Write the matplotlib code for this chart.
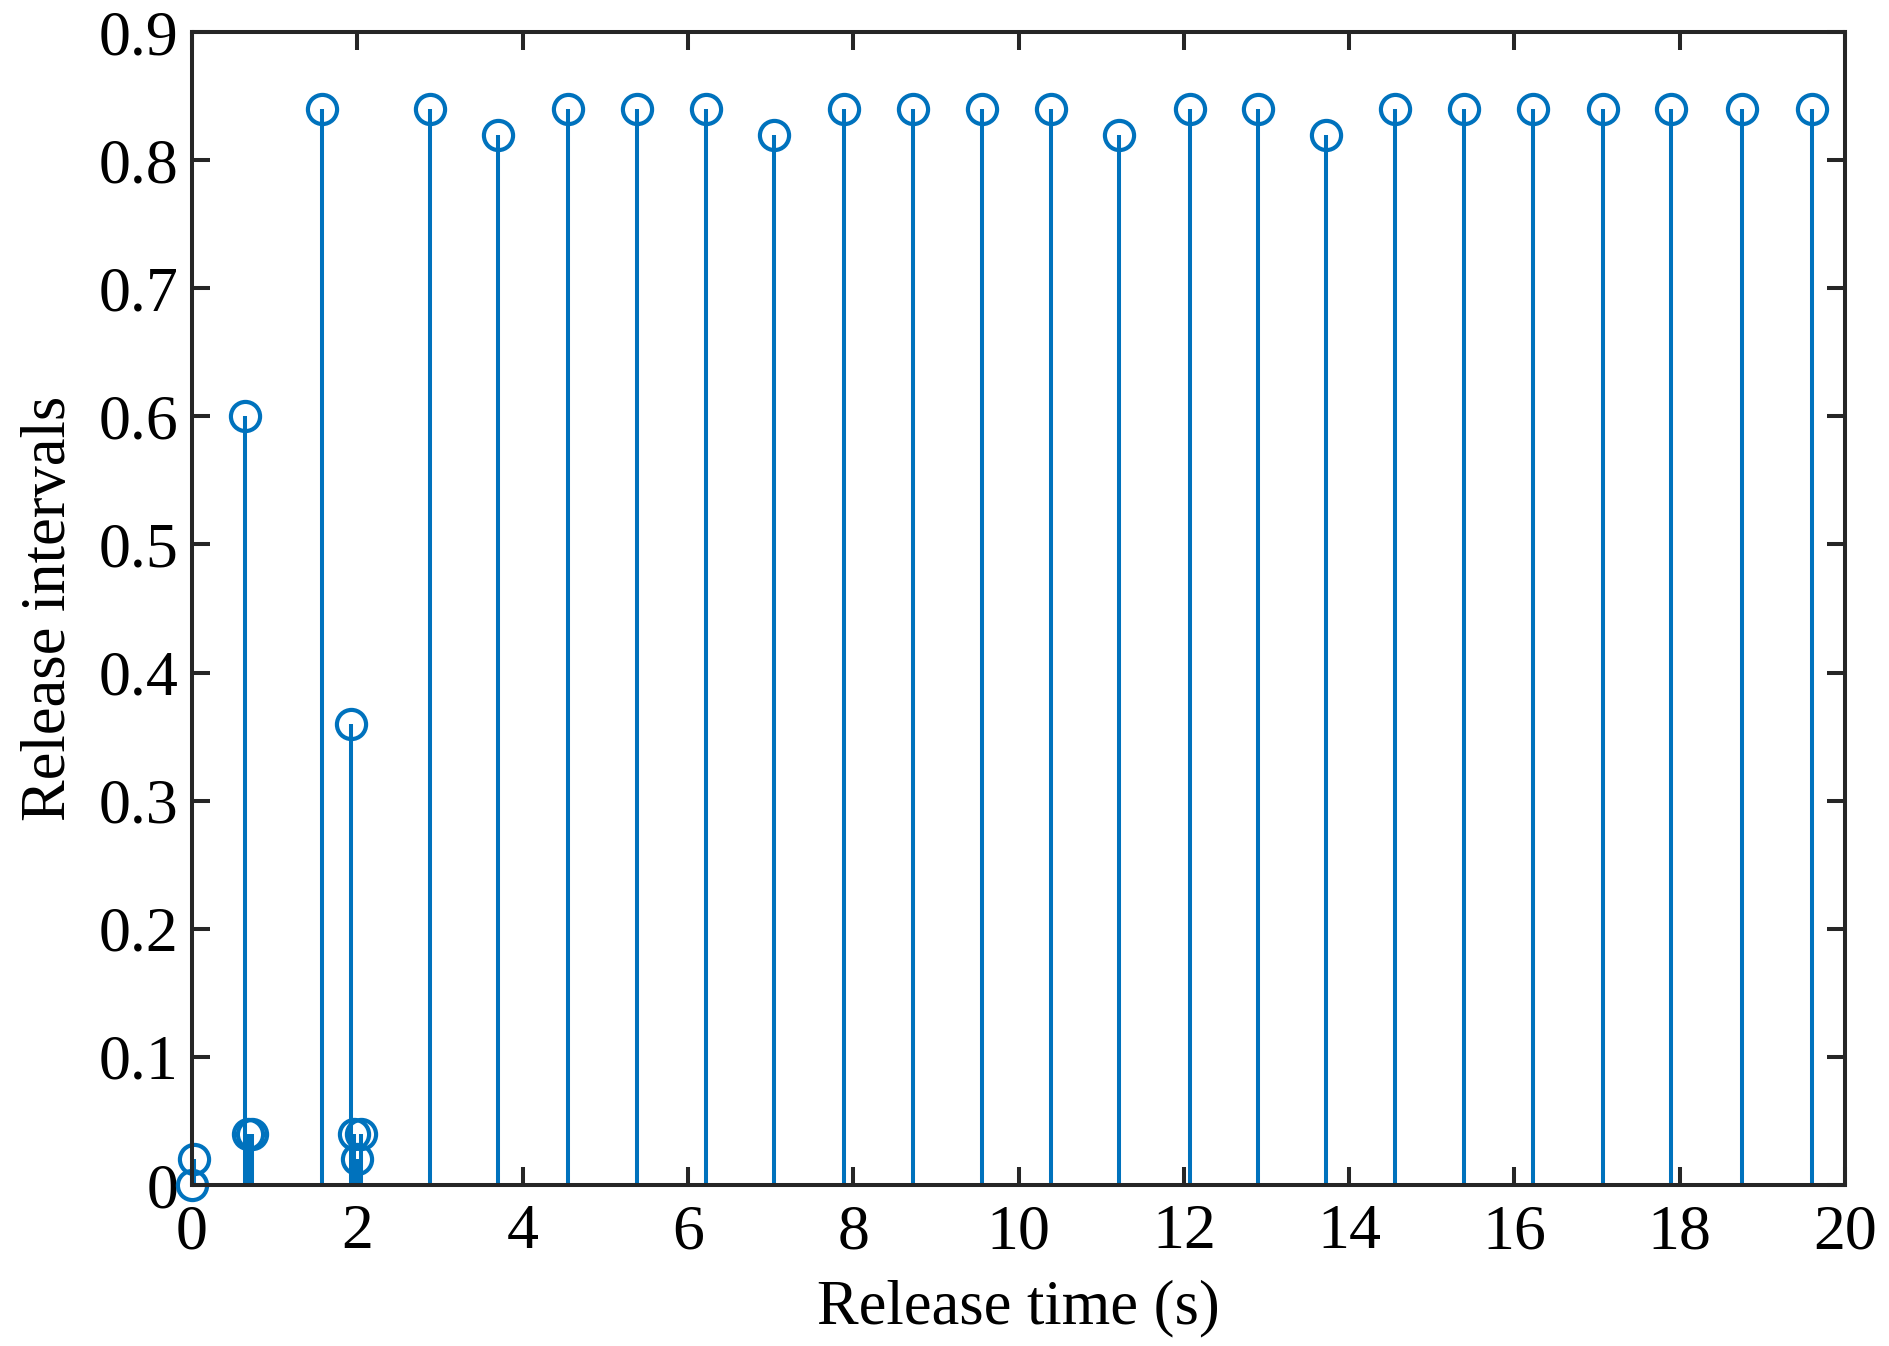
import matplotlib
matplotlib.use("Agg")
import matplotlib.pyplot as plt

# release times (s) and release intervals
times = [0.0, 0.02, 0.64, 0.68, 0.72, 1.57, 1.92, 1.96, 2.0, 2.04,
         2.88, 3.70, 4.55, 5.38, 6.22, 7.04, 7.89, 8.72, 9.56, 10.39,
         11.22, 12.07, 12.90, 13.72, 14.56, 15.39, 16.22, 17.07, 17.90,
         18.75, 19.60]
intervals = [0.0, 0.02, 0.60, 0.04, 0.04, 0.84, 0.36, 0.04, 0.02, 0.04,
             0.84, 0.82, 0.84, 0.84, 0.84, 0.82, 0.84, 0.84, 0.84, 0.84,
             0.82, 0.84, 0.84, 0.82, 0.84, 0.84, 0.84, 0.84, 0.84,
             0.84, 0.84]

xticks = list(range(0, 21, 2))
yticks = [0, 0.1, 0.2, 0.3, 0.4, 0.5, 0.6, 0.7, 0.8, 0.9]
ytick_labels = ["0", "0.1", "0.2", "0.3", "0.4", "0.5", "0.6", "0.7", "0.8", "0.9"]

blue = "#0072BD"
axcol = "#262626"

plt.rcParams['font.family'] = ['Liberation Serif', 'DejaVu Serif']

fig = plt.figure(figsize=(18.9, 13.46), dpi=100)
ax = fig.add_axes([0.1016, 0.1196, 0.9762 - 0.1016, 0.9762 - 0.1196])

markerline, stemlines, baseline = ax.stem(times, intervals, basefmt=" ")
stemlines.set_color(blue)
stemlines.set_linewidth(2.9)
markerline.set_color(blue)
markerline.set_markerfacecolor("none")
markerline.set_markeredgewidth(3.0)
markerline.set_markersize(21)
markerline.set_clip_on(False)
stemlines.set_clip_on(False)

ax.set_xlim(0, 20)
ax.set_ylim(0, 0.9)
ax.set_xticks(xticks)
ax.set_yticks(yticks)
ax.set_yticklabels(ytick_labels)

for s in ax.spines.values():
    s.set_color(axcol)
    s.set_linewidth(2.9)
ax.tick_params(direction="in", length=13, width=2.9, colors=axcol,
               top=True, right=True, labelsize=46)
ax.tick_params(axis="x", pad=14)
ax.tick_params(axis="y", pad=10)
for lab in ax.get_xticklabels() + ax.get_yticklabels():
    lab.set_color("black")

ax.set_xlabel("Release time (s)", fontsize=45, labelpad=12)
ax.set_ylabel("Release intervals", fontsize=45, labelpad=14)

fig.savefig("out.png", dpi=100)
